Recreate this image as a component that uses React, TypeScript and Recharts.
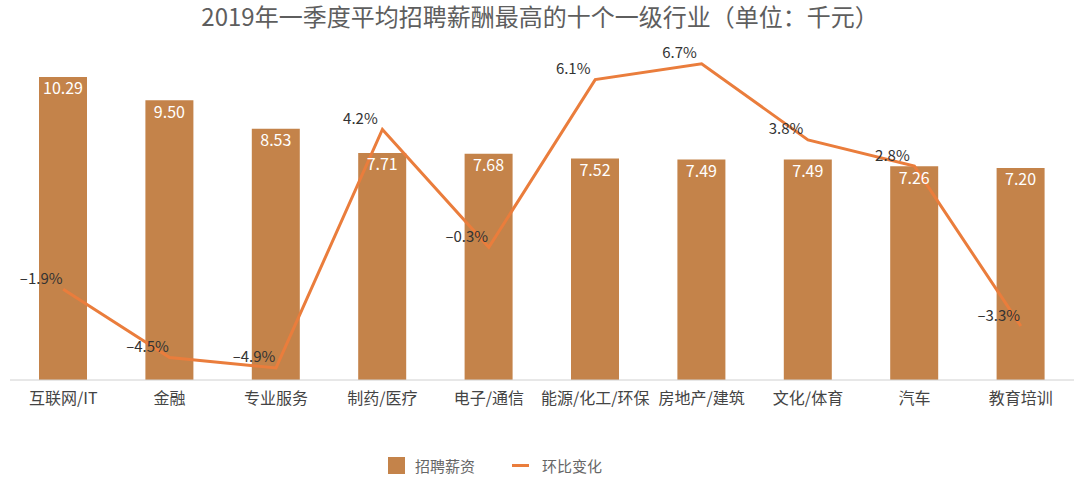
import React from 'react';
import { ComposedChart, Bar, Line, XAxis, YAxis, LabelList, Legend } from 'recharts';

const industries = ['互联网/IT', '金融', '专业服务', '制药/医疗', '电子/通信', '能源/化工/环保', '房地产/建筑', '文化/体育', '汽车', '教育培训'];
const salary = [10.29, 9.5, 8.53, 7.71, 7.68, 7.52, 7.49, 7.49, 7.26, 7.2];
const change = [-1.9, -4.5, -4.9, 4.2, -0.3, 6.1, 6.7, 3.8, 2.8, -3.3];

const BAR_COLOR = '#C4834A';
const LINE_COLOR = '#EA7D3C';
const FONT = '"Noto Sans CJK SC", "Noto Sans", sans-serif';

const data = industries.map((name, i) => ({ name, salary: salary[i], change: change[i] }));

const ChangeLabel = (props: any) => {
  const { x, y, value } = props;
  return (
    <text x={x - 22} y={y - 12} textAnchor="middle" dominantBaseline="central" fill="#333" fontSize={15} fontFamily={FONT}>
      {`${value < 0 ? '–' : ''}${Math.abs(value).toFixed(1)}%`}
    </text>
  );
};

const LegendContent = () => (
  <div style={{ display: 'flex', alignItems: 'center', paddingLeft: 388, fontFamily: FONT, fontSize: 15, color: '#666' }}>
    <span style={{ display: 'inline-block', width: 17, height: 17, background: BAR_COLOR, marginRight: 10 }} />
    <span style={{ marginRight: 37 }}>招聘薪资</span>
    <span style={{ display: 'inline-block', width: 17, height: 3, background: LINE_COLOR, marginRight: 13 }} />
    <span>环比变化</span>
  </div>
);

export default function App() {
  return (
    <div style={{ position: 'absolute', left: 0, top: 0, width: 1080, height: 481, background: '#fff' }}>
      <div style={{ position: 'absolute', top: -2, left: 0, width: 1080, textAlign: 'center', fontFamily: FONT, fontSize: 24, color: '#5e5e5e' }}>
        2019年一季度平均招聘薪酬最高的十个一级行业（单位：千元）
      </div>
      <ComposedChart width={1080} height={481} data={data} margin={{ top: 56, right: 6, left: 10, bottom: 71 }}>
        <XAxis
          dataKey="name"
          height={30}
          tickLine={false}
          axisLine={{ stroke: '#d0d0d0' }}
          tick={{ fill: '#444', fontSize: 16, fontFamily: FONT, dy: 5 }}
          interval={0}
        />
        <YAxis yAxisId="left" hide domain={[0, 11]} />
        <YAxis yAxisId="right" hide orientation="right" domain={[-5.36, 7.0]} />
        <Legend
          layout="horizontal"
          verticalAlign="middle"
          align="center"
          content={<LegendContent />}
          wrapperStyle={{ top: 455, left: 0, width: 1080 }}
        />
        <Bar yAxisId="left" dataKey="salary" name="招聘薪资" fill={BAR_COLOR} barSize={48} isAnimationActive={false}>
          <LabelList
            dataKey="salary"
            position="insideTop"
            offset={6}
            fill="#fff"
            fontSize={16}
            fontFamily={FONT}
            formatter={(v: any) => Number(v).toFixed(2)}
          />
        </Bar>
        <Line
          yAxisId="right"
          dataKey="change"
          name="环比变化"
          stroke={LINE_COLOR}
          strokeWidth={3}
          dot={false}
          activeDot={false}
          type="linear"
          isAnimationActive={false}
        >
          <LabelList dataKey="change" content={<ChangeLabel />} />
        </Line>
      </ComposedChart>
    </div>
  );
}
